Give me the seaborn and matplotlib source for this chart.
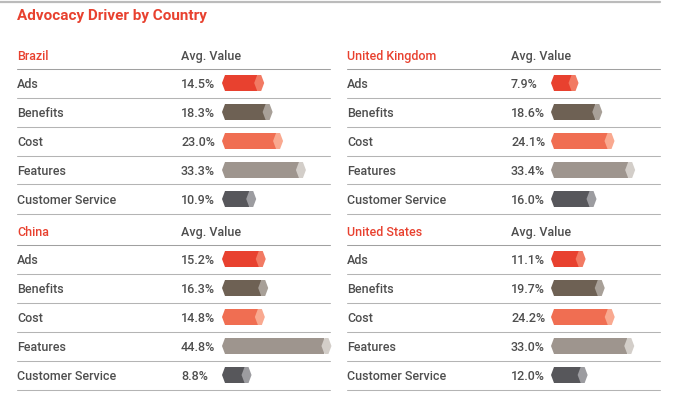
import numpy as np
import pandas as pd
import seaborn as sns
import matplotlib.pyplot as plt
from matplotlib.patches import Polygon
from matplotlib.lines import Line2D

# ---------------- data ----------------
title = "Advocacy Driver by Country"
countries = ["Brazil", "United Kingdom", "China", "United States"]
drivers = ["Ads", "Benefits", "Cost", "Features", "Customer Service"]
brazil = [14.5, 18.3, 23.0, 33.3, 10.9]
united_kingdom = [7.9, 18.6, 24.1, 33.4, 16.0]
china = [15.2, 16.3, 14.8, 44.8, 8.8]
united_states = [11.1, 19.7, 24.2, 33.0, 12.0]
values = [brazil, united_kingdom, china, united_states]
column_header = "Avg. Value"

body_colors = ["#E8412F", "#6E6154", "#F06E52", "#9E958E", "#57575B"]
cap_colors = ["#F27A63", "#A8A098", "#F9A990", "#D3CEC9", "#9C9CA0"]

# ---------------- style ----------------
sns.set_style("white")
plt.rcParams["font.family"] = ["Roboto", "DejaVu Sans"]

W, H = 675, 396
fig = plt.figure(figsize=(W / 100, H / 100), dpi=100)
fig.patch.set_facecolor("white")

def fx(px):
    return px / W

def fy(py):
    return 1 - py / H

def text(px, py, s, **kw):
    fig.text(fx(px), fy(py + 1.2), s, va="center", ha="left", **kw)

def hline(x0, x1, py, color="#AAAAAA", lw=0.75):
    fig.add_artist(Line2D([fx(x0), fx(x1)], [fy(py), fy(py)],
                          transform=fig.transFigure, color=color, lw=lw))

RED = "#E8412F"
GRAY_TXT = "#4E4E4E"
S = 2.22  # px per percent

# top rule and title
hline(0, 660, 1.5, color="#BBBBBB", lw=1.6)
text(17, 15, title, color=RED, fontsize=11, fontweight="bold")

# panel layout: (label x, value x, bar x, header y, right end)
layout = [(17, 181, 222, 55, 330), (347, 511, 551, 55, 660),
          (17, 181, 222, 231, 330), (347, 511, 551, 231, 660)]

for country, vals, (lx, vx, bx, hy, rx) in zip(countries, values, layout):
    text(lx, hy, country, color=RED, fontsize=9, fontweight=500)
    text(vx, hy, column_header, color=GRAY_TXT, fontsize=9, fontweight=500)
    hline(lx, rx, hy + 13.5, color="#A0A0A0")
    for i, (d, v) in enumerate(zip(drivers, vals)):
        ry = hy + 28 + 29 * i
        text(lx, ry, d, color=GRAY_TXT, fontsize=9, fontweight=500)
        text(vx, ry, f"{v:.1f}%", color=GRAY_TXT, fontsize=9, fontweight=500)
        hline(lx, rx, ry + 14.5, color="#B4B4B4")

    ax = fig.add_axes([fx(bx), fy(hy + 13.5 + 145), 118 / W, 145 / H])
    df = pd.DataFrame({"driver": drivers, "value": vals})
    sns.barplot(data=df, x="value", y="driver", hue="driver",
                palette=body_colors, orient="h", width=16 / 29,
                saturation=1, legend=False, ax=ax, linewidth=0)
    half = 8 / 29
    tip = 3 / S
    flat = 4 / S
    for i, v in enumerate(vals):
        top, mid, bot = i - half, i, i + half
        # left pointed tip
        ax.add_patch(Polygon([(0, top), (-tip, mid), (0, bot)], closed=True,
                             facecolor=body_colors[i], edgecolor="none"))
        # right hexagonal end cap
        ax.add_patch(Polygon([(v, top), (v + flat, top), (v + flat + tip, mid),
                              (v + flat, bot), (v, bot), (v - tip, mid)],
                             closed=True, facecolor=cap_colors[i],
                             edgecolor="none"))
    ax.set_xlim(-3 / S, 115 / S)
    ax.set_ylim(4.5, -0.5)
    ax.axis("off")

fig.savefig("out.png", dpi=100, facecolor="white")
